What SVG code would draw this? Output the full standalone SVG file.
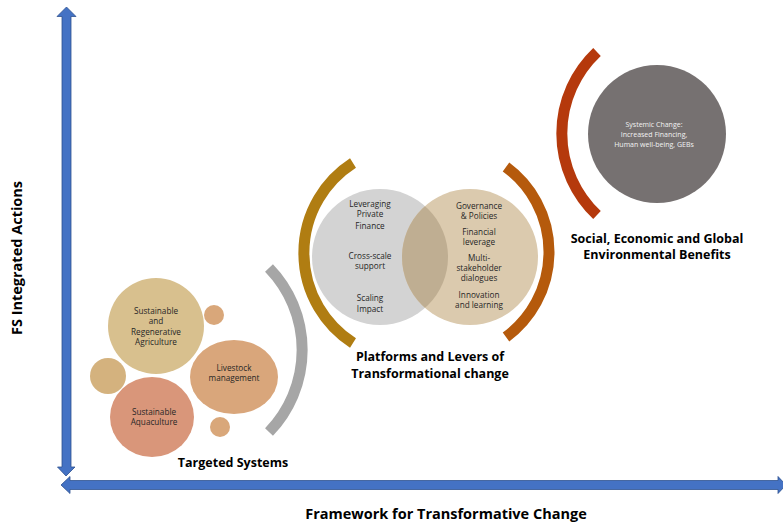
<svg xmlns="http://www.w3.org/2000/svg" width="783" height="525" viewBox="0 0 783 525">
<defs>
<style>
.arrow{fill:#4472C4;stroke:#2F528F;stroke-width:0.8}
.arc{fill:none;stroke-width:11;stroke-linecap:butt}
.ts{font-family:"Open Sans","Liberation Sans",sans-serif;font-size:8.2px;fill:#262626;text-anchor:middle}
.tw{font-family:"Open Sans","Liberation Sans",sans-serif;font-size:7px;fill:#F2F2F2;text-anchor:middle}
.title{font-family:"Open Sans","Liberation Sans",sans-serif;font-weight:bold;fill:#000;text-anchor:middle}
</style>
<clipPath id="leftClip"><circle cx="380" cy="257" r="68"/></clipPath>
</defs>
<rect width="783" height="525" fill="#fff"/>

<g id="axes">
<polygon class="arrow" points="66.5,7 76,16.5 71,16.5 71,467 75,467 66,476 57.5,467 62,467 62,16.5 57,16.5"/>
<polygon class="arrow" points="61,485 70,476.5 70,480.5 778,480.5 778,476.5 786,485 778,493.5 778,489.5 70,489.5 70,493.5"/>
</g>
<text class="title" font-size="14.5" x="22" y="258" transform="rotate(-90 22 258)">FS Integrated Actions</text>
<text class="title" font-size="14.5" x="446" y="519">Framework for Transformative Change</text>

<g id="connectors">
<path class="arc" stroke="#A6A6A6" d="M269,268 A118,118 0 0 1 269,432"/>
<path class="arc" stroke="#B07D12" stroke-width="12" d="M353,163 A107,107 0 0 0 353,343"/>
<path class="arc" stroke="#B55A0C" stroke-width="12" d="M506,167 A105.5,105.5 0 0 1 506,337"/>
<path class="arc" stroke="#B5390C" stroke-width="12" d="M597,52 A112,112 0 0 0 597,215"/>
</g>

<g id="targeted-systems">
<circle cx="156" cy="326" r="48" fill="#D8C08E"/>
<circle cx="108" cy="376" r="18" fill="#D4B27E"/>
<circle cx="214" cy="315" r="10" fill="#D9A77A"/>
<ellipse cx="234" cy="377" rx="44" ry="37" fill="#D9A67B"/>
<ellipse cx="152" cy="417" rx="42" ry="40" fill="#D9967A"/>
<circle cx="220" cy="427" r="10" fill="#D9A77A"/>
<text class="ts" x="156" y="314">Sustainable</text>
<text class="ts" x="156" y="324">and</text>
<text class="ts" x="156" y="335">Regenerative</text>
<text class="ts" x="156" y="345">Agriculture</text>
<text class="ts" x="234" y="371">Livestock</text>
<text class="ts" x="234" y="381">management</text>
<text class="ts" x="154" y="415">Sustainable</text>
<text class="ts" x="154" y="425">Aquaculture</text>
<text class="title" font-size="12.5" x="233" y="467">Targeted Systems</text>
</g>

<g id="platforms">
<circle cx="380" cy="257" r="68" fill="#D3D3D3"/>
<circle cx="470" cy="257" r="68" fill="#DBCAAE"/>
<circle cx="470" cy="257" r="68" fill="#BFAE92" clip-path="url(#leftClip)"/>
<text class="ts" x="370" y="207">Leveraging</text>
<text class="ts" x="370" y="217">Private</text>
<text class="ts" x="370" y="229">Finance</text>
<text class="ts" x="370" y="259">Cross-scale</text>
<text class="ts" x="370" y="269">support</text>
<text class="ts" x="370" y="301">Scaling</text>
<text class="ts" x="370" y="312">Impact</text>
<text class="ts" x="479" y="209">Governance</text>
<text class="ts" x="479" y="219">&amp; Policies</text>
<text class="ts" x="479" y="235">Financial</text>
<text class="ts" x="479" y="245">leverage</text>
<text class="ts" x="479" y="261">Multi-</text>
<text class="ts" x="479" y="271">stakeholder</text>
<text class="ts" x="479" y="281">dialogues</text>
<text class="ts" x="479" y="298">Innovation</text>
<text class="ts" x="479" y="308">and learning</text>
<text class="title" font-size="12.5" x="430" y="361">Platforms and Levers of</text>
<text class="title" font-size="12.5" x="430" y="378">Transformational change</text>
</g>

<g id="benefits">
<circle cx="657" cy="134" r="69" fill="#767171"/>
<text class="tw" x="654" y="127">Systemic Change:</text>
<text class="tw" x="654" y="137">Increased Financing,</text>
<text class="tw" x="654" y="147">Human well-being, GEBs</text>
<text class="title" font-size="12.5" x="657" y="243">Social, Economic and Global</text>
<text class="title" font-size="12.5" x="657" y="259">Environmental Benefits</text>
</g>
</svg>
